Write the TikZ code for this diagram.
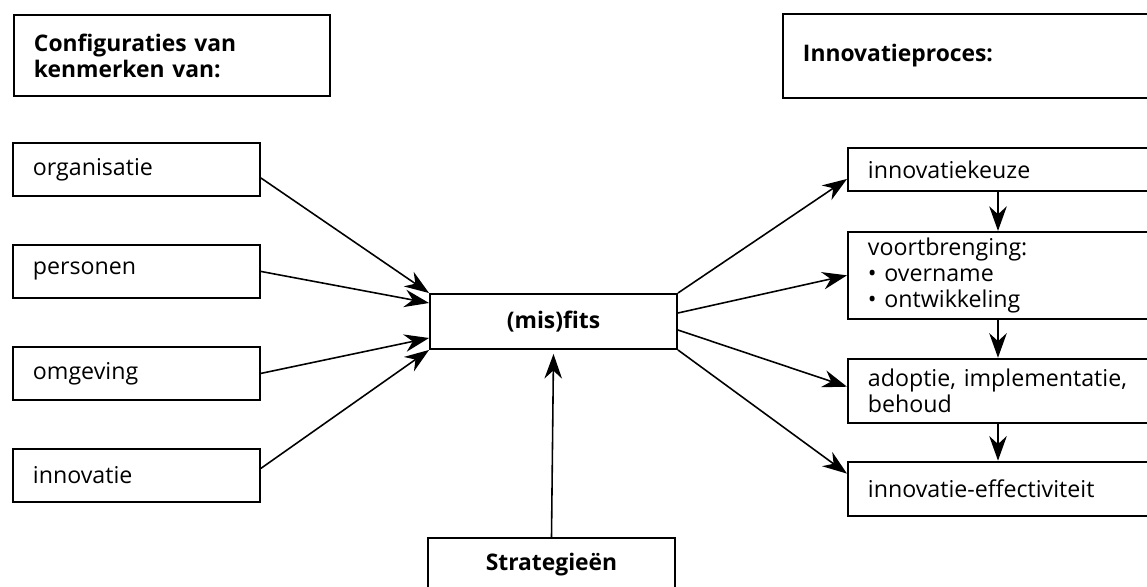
\documentclass[tikz,border=0pt]{standalone}
\usepackage{fontspec}
\setmainfont{Open Sans}
\usepackage{tikz}
\usetikzlibrary{arrows.meta,positioning}

\begin{document}
\begin{tikzpicture}[x=0.02cm,y=-0.02cm,line width=0.9pt,node distance=2.04cm]
\tikzstyle{every node}=[font=\fontsize{13.2}{14.8}\selectfont]
\tikzstyle{box}=[draw=black,line width=1.1pt,rectangle,inner xsep=0.4cm,align=left,minimum height=1.06cm,text width=4.14cm]
\tikzstyle{kop}=[box,font=\fontsize{13}{14.8}\selectfont\bfseries]
\tikzstyle{stap}=[box,text width=5.8cm]
\tikzstyle{pijl}=[-{Stealth[length=14pt,width=10pt]}]

        \useasboundingbox (0,0) rectangle (1147,587);

        % kop links en rechts
        \node[kop,anchor=north west,text width=5.52cm,minimum height=1.62cm]   (conf)   at (13,14)     {Configuraties van\\kenmerken van:};
        \node[kop,anchor=north west,text width=6.9cm,minimum height=1.68cm]    (proces) at (782,13)    {Innovatieproces:};

        % kenmerken
        \node[box,anchor=north west]        (org)                       at (12,142)    {organisatie};
        \node[box]                          (pers)   [below of=org]                    {personen};
        \node[box]                          (omg)    [below of=pers]                   {omgeving};
        \node[box]                          (inno)   [below of=omg]                    {innovatie};

        % midden
        \node[kop,align=center,minimum height=1.1cm]    (fits)   at (553.5,321.5)  {(mis)fits};
        \node[kop,align=center,minimum height=1.08cm]   (strat)  at (551.5,565)    {Strategieën};

        % innovatieproces
        \node[stap,anchor=north west,minimum height=0.86cm]  (keuze)                         at (847,147)  {innovatiekeuze};
        \node[stap,minimum height=1.68cm]    (voort)   [below=0.78cm of keuze]   {voortbrenging:\\\textbullet\ overname\\\textbullet\ ontwikkeling};
        \node[stap,minimum height=1.28cm]    (adopt)   [below=0.76cm of voort]   {adoptie, implementatie,\\behoud};
        \node[stap,minimum height=1.08cm]    (effect)  [below=0.74cm of adopt]   {innovatie-effectiviteit};

        \coordinate (kolom) at (998,0);

        \path[pijl]
        ([yshift=-0.17cm]org.east)    edge[pijl]    (fits.north west)
        (pers.east)                   edge[pijl]    ([yshift=0.37cm]fits.west)
        (omg.east)                    edge[pijl]    ([yshift=-0.33cm]fits.west)
        ([yshift=0.14cm]inno.east)    edge[pijl]    (fits.south west)
        (strat.north)                 edge[pijl]    ([yshift=-0.08cm]fits.south)
        (fits.north east)             edge[pijl]    ([yshift=-0.19cm]keuze.west)
        ([yshift=0.17cm]fits.east)    edge[pijl]    (voort.west)
        ([yshift=-0.17cm]fits.east)   edge[pijl]    ([yshift=0.08cm]adopt.west)
        (fits.south east)             edge[pijl]    ([yshift=0.3cm]effect.west)
        (keuze.south -| kolom)        edge[pijl]    (voort.north -| kolom)
        (voort.south -| kolom)        edge[pijl]    (adopt.north -| kolom)
        (adopt.south -| kolom)        edge[pijl]    (effect.north -| kolom)
        ; %end path

\end{tikzpicture}
\end{document}
